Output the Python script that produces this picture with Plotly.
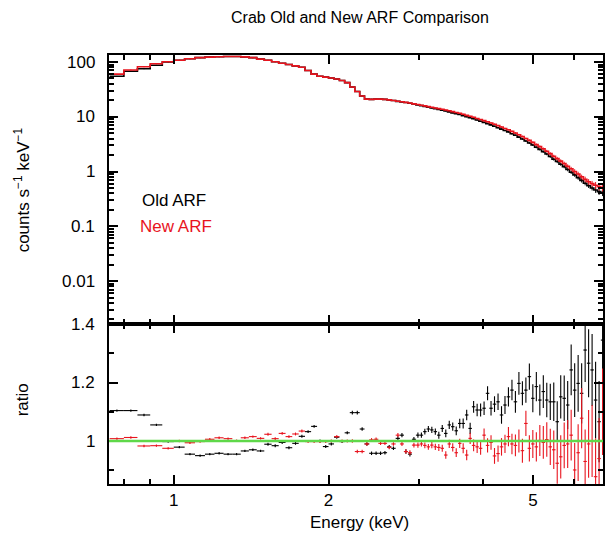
import numpy as np
import plotly.graph_objects as go
from plotly.subplots import make_subplots

# Bin centres (keV)
energy_keV = [
    0.775, 0.825, 0.875, 0.925, 0.975, 1.025, 1.075, 1.125, 1.175, 1.225,
    1.275, 1.325, 1.375, 1.425, 1.475, 1.525, 1.575, 1.625, 1.675, 1.725,
    1.775, 1.825, 1.875, 1.925, 1.975, 2.025, 2.075, 2.125, 2.175, 2.225,
    2.275, 2.325, 2.375, 2.425, 2.475, 2.525, 2.575, 2.625, 2.675,
    2.729, 2.779, 2.829, 2.880, 2.932, 2.985, 3.032, 3.079, 3.128, 3.177,
    3.227, 3.278, 3.329, 3.382, 3.435, 3.489, 3.544, 3.600, 3.656, 3.714,
    3.772, 3.831, 3.892, 3.953, 4.015, 4.078, 4.142, 4.207, 4.274, 4.341,
    4.409, 4.478, 4.549, 4.620, 4.693, 4.767, 4.842, 4.918, 4.995, 5.074,
    5.154, 5.235, 5.317, 5.401, 5.486, 5.572, 5.660, 5.749, 5.839, 5.931,
    6.025, 6.119, 6.216, 6.314, 6.413, 6.514, 6.617, 6.721, 6.827,
]

# Count rates (counts s^-1 keV^-1)
rate_new = [
    60, 71.5, 82, 93, 101, 108, 115, 120, 123, 125,
    126, 126, 124, 120, 113, 108, 101, 95, 90, 85,
    80, 70, 60, 55, 53, 51, 49, 46, 42, 35,
    29, 24, 21, 20.8, 21, 21, 20.8, 20.3, 19.8,
    19.2, 18.8, 18.3, 17.8, 17.2, 16.7, 16.2, 15.8, 15.3, 14.9,
    14.5, 14.1, 13.7, 13.3, 12.9, 12.4, 12.0, 11.6, 11.1, 10.6,
    10.2, 9.8, 9.3, 8.9, 8.5, 8.1, 7.7, 7.3, 6.9, 6.5,
    6.1, 5.8, 5.4, 5.05, 4.7, 4.35, 4.0, 3.7, 3.4, 3.1,
    2.85, 2.6, 2.35, 2.12, 1.9, 1.72, 1.55, 1.4, 1.25, 1.12,
    1.0, 0.9, 0.8, 0.72, 0.65, 0.6, 0.56, 0.53, 0.5,
]
rate_old = [
    55, 68, 75.5, 87, 100, 108, 115, 120, 123, 125,
    126, 126, 124, 120, 113, 108, 101, 95, 90, 85,
    80, 70, 60, 55, 53, 51, 49, 46, 42, 35,
    29, 24, 21, 20.8, 21, 21, 20.8, 20.3, 19.8,
    19.1, 18.7, 18.2, 17.7, 17.1, 16.5, 16.0, 15.5, 15.0, 14.5,
    14.1, 13.6, 13.2, 12.8, 12.3, 11.8, 11.4, 11.0, 10.5, 10.0,
    9.6, 9.2, 8.7, 8.3, 7.9, 7.5, 7.1, 6.7, 6.3, 5.95,
    5.6, 5.3, 4.9, 4.6, 4.25, 3.93, 3.6, 3.32, 3.05, 2.77,
    2.54, 2.31, 2.09, 1.88, 1.68, 1.52, 1.36, 1.23, 1.09, 0.97,
    0.87, 0.77, 0.69, 0.61, 0.55, 0.5, 0.46, 0.43, 0.4,
]

# Data / model ratios
ratio_old = [
    1.104, 1.104, 1.089, 1.055, 0.998, 0.979, 0.955, 0.950, 0.955, 0.958,
    0.955, 0.955, 0.966, 0.970, 0.966, 0.989, 0.984, 0.995, 0.977, 0.992,
    1.016, 1.032, 1.050, 1.000, 0.981, 0.990, 1.013, 0.998, 1.028, 1.097,
    1.097, 1.041, 0.990, 0.958, 0.958, 0.958, 0.960, 0.980, 0.975,
    1.009, 1.020, 0.964, 0.955, 1.006, 1.020, 1.020, 1.032, 1.041, 1.038,
    1.032, 1.020, 1.043, 1.026, 1.055, 1.049, 1.035, 1.060, 1.060, 1.089,
    1.043, 1.117, 1.106, 1.106, 1.112, 1.163, 1.112, 1.126, 1.134, 1.089,
    1.123, 1.151, 1.174, 1.134, 1.197, 1.163, 1.174, 1.220, 1.146, 1.186,
    1.140, 1.169, 1.140, 1.134, 1.134, 1.066, 1.151, 1.146, 1.123, 1.243,
    1.174, 1.197, 1.163, 1.311, 1.266, 1.243, 1.140, 1.066, 1.345,
]
ratio_new = [
    1.008, 1.012, 0.983, 0.984, 0.975, 1.000, 0.994, 0.998, 1.006, 1.011,
    1.008, 1.001, 1.011, 1.015, 1.009, 1.023, 1.008, 1.026, 1.015, 1.024,
    1.034, 0.998, 0.998, 0.998, 0.998, 1.000, 1.015, 1.000, 1.000, 1.000,
    0.964, 0.964, 0.990, 1.004, 1.006, 0.992, 0.992, 0.978, 0.990,
    1.020, 0.990, 0.964, 0.960, 0.986, 0.986, 0.990, 0.985, 0.980, 0.986,
    0.980, 0.978, 0.975, 0.952, 0.990, 0.978, 0.960, 0.992, 0.975, 0.952,
    1.009, 0.985, 0.980, 0.975, 1.020, 0.985, 0.995, 0.949, 0.957, 0.980,
    0.990, 1.015, 0.990, 0.985, 1.000, 0.967, 1.060, 0.975, 0.990, 0.980,
    1.002, 0.995, 1.005, 0.980, 0.970, 0.924, 0.946, 0.985, 0.990, 1.020,
    0.901, 0.960, 1.078, 0.930, 0.990, 1.000, 0.878, 0.940, 1.100,
]
ratio_err = [
    0.004, 0.004, 0.004, 0.004, 0.004, 0.004, 0.004, 0.004, 0.004, 0.004,
    0.004, 0.004, 0.004, 0.004, 0.004, 0.005, 0.005, 0.005, 0.005, 0.005,
    0.005, 0.005, 0.005, 0.005, 0.005, 0.005, 0.005, 0.005, 0.005, 0.006,
    0.006, 0.006, 0.006, 0.006, 0.006, 0.006, 0.006, 0.006, 0.006,
    0.007, 0.007, 0.008, 0.008, 0.008, 0.009,
    0.009, 0.010, 0.010, 0.011, 0.011, 0.012, 0.012, 0.013, 0.014, 0.014, 0.015,
    0.016, 0.017, 0.018, 0.019, 0.020, 0.021, 0.022, 0.023,
    0.024, 0.025, 0.027, 0.028, 0.030, 0.031, 0.033, 0.035,
    0.037, 0.039, 0.041, 0.043, 0.045, 0.048,
    0.050, 0.053, 0.056, 0.059, 0.062, 0.066,
    0.070, 0.074, 0.078, 0.082, 0.087,
    0.092, 0.097, 0.103, 0.109, 0.116, 0.123, 0.131, 0.139, 0.148,
]

# Axis tick values and labels
spec_ticks = [0.01, 0.1, 1, 10, 100]
spec_labels = ["0.01", "0.1", "1", "10", "100"]
ratio_ticks = [1.0, 1.2, 1.4]
ratio_labels = ["1", "1.2", "1.4"]
energy_ticks = [1, 2, 5]
energy_labels = ["1", "2", "5"]

E_MIN, E_MAX = 0.748, 6.84
BLACK = "#000000"
RED = "#e8141e"
GREEN = "#5fd84a"
FONT = "Liberation Sans, Arial, Helvetica, sans-serif"

E = np.array(energy_keV)
mids = np.sqrt(E[:-1] * E[1:])
edges = np.concatenate([[0.75], mids, [6.88]])
lo = E - edges[:-1]
hi = edges[1:] - E

fig = make_subplots(rows=2, cols=1, shared_xaxes=True, vertical_spacing=0,
                    row_heights=[269, 160])


def spectrum(rate, color, ratio):
    r = np.array(rate, dtype=float)
    err = r * np.array(ratio_err) / np.array(ratio)
    step_y = np.concatenate([r, [r[-1]]])
    fig.add_trace(go.Scatter(x=edges, y=step_y, mode="lines", line_shape="hv",
                             line=dict(color=color, width=1.6),
                             hoverinfo="skip", showlegend=False), row=1, col=1)
    fig.add_trace(go.Scatter(x=E, y=r, mode="markers",
                             marker=dict(size=1, color=color),
                             error_y=dict(type="data", array=err, color=color,
                                          thickness=1, width=0),
                             showlegend=False), row=1, col=1)


def ratio_points(ratio, color):
    fig.add_trace(go.Scatter(
        x=E, y=ratio, mode="markers", marker=dict(size=1, color=color),
        error_x=dict(type="data", symmetric=False, array=hi, arrayminus=lo,
                     color=color, thickness=1.1, width=0),
        error_y=dict(type="data", array=ratio_err, color=color,
                     thickness=1.1, width=0),
        showlegend=False), row=2, col=1)


spectrum(rate_old, BLACK, ratio_old)
spectrum(rate_new, RED, ratio_new)
ratio_points(ratio_old, BLACK)
ratio_points(ratio_new, RED)

tick_font = dict(family=FONT, size=17, color="black")
frame = dict(showline=True, linewidth=2, linecolor="black", mirror="allticks",
             showgrid=False, zeroline=False, ticks="inside", ticklen=9,
             tickwidth=1.5, tickcolor="black")

fig.update_xaxes(type="log", range=[np.log10(E_MIN), np.log10(E_MAX)],
                 tickvals=energy_ticks, ticktext=energy_labels,
                 minor=dict(tickmode="array", tickvals=[0.8, 0.9, 3, 4, 6],
                            ticks="inside", ticklen=5, tickwidth=1.5,
                            tickcolor="black"),
                 tickfont=tick_font, **frame)
fig.update_xaxes(showticklabels=False, row=1, col=1)

dec_minor = [k * 10.0 ** d for d in range(-3, 3) for k in range(2, 10)]
fig.update_yaxes(type="log", range=[-2.785, 2.128], tickvals=spec_ticks,
                 showticklabels=False,
                 minor=dict(tickmode="array", tickvals=dec_minor,
                            ticks="inside", ticklen=5, tickwidth=1.5,
                            tickcolor="black"),
                 **frame, row=1, col=1)
fig.update_yaxes(range=[0.853, 1.4], tickvals=ratio_ticks,
                 showticklabels=False,
                 minor=dict(tickmode="array", tickvals=[0.9, 1.1, 1.3],
                            ticks="inside", ticklen=5, tickwidth=1.5,
                            tickcolor="black"),
                 **frame, row=2, col=1)

fig.update_layout(
    yaxis=dict(domain=[160 / 429, 1]),
    yaxis2=dict(domain=[0, 160 / 429]),
)

# Unity reference line in the ratio panel
fig.add_shape(type="line", xref="x2 domain", yref="y2", x0=0, x1=1, y0=1, y1=1,
              line=dict(color=GREEN, width=2.5), layer="above")

W, H, L, T, B = 605, 534, 109, 55, 50
pw, ph = W - L, H - T - B


def px(x):
    return (x - L) / pw


def py(y):
    return (H - B - y) / ph


LABEL_X = px(97)   # right edge of the y tick labels
ann = []
for v, t in zip(spec_ticks, spec_labels):
    ann.append(dict(text=t, x=LABEL_X, xref="paper", y=np.log10(v), yref="y",
                    xanchor="right", yanchor="middle", font=tick_font))
for v, t in zip(ratio_ticks, ratio_labels):
    ann.append(dict(text=t, x=LABEL_X, xref="paper", y=v, yref="y2",
                    xanchor="right", yanchor="middle", font=tick_font))

text_font = dict(family=FONT, size=17, color="black")
ann += [
    dict(text="Crab Old and New ARF Comparison", x=px(361), y=py(18),
         xanchor="center", yanchor="middle",
         font=dict(family=FONT, size=16, color="black")),
    dict(text="Old ARF", x=px(140), y=py(200), xanchor="left",
         yanchor="middle", font=text_font),
    dict(text="New ARF", x=px(138), y=py(226), xanchor="left",
         yanchor="middle", font=dict(family=FONT, size=17, color=RED)),
    dict(text="counts s<sup>\u22121</sup> keV<sup>\u22121</sup>", x=px(22),
         y=py(190), xanchor="center", yanchor="middle", textangle=-90,
         font=text_font),
    dict(text="ratio", x=px(22), y=py(400), xanchor="center",
         yanchor="middle", textangle=-90, font=text_font),
    dict(text="Energy (keV)", x=px(361), y=py(522), xanchor="center",
         yanchor="middle", font=text_font),
]
for a in ann:
    a.setdefault("xref", "paper")
    a.setdefault("yref", "paper")
    a["showarrow"] = False

fig.update_layout(
    width=W, height=H, margin=dict(l=L, r=0, t=T, b=B, pad=0),
    paper_bgcolor="white", plot_bgcolor="white",
    annotations=ann, showlegend=False, font=dict(family=FONT, color="black"),
)

fig.write_html("out.html")
